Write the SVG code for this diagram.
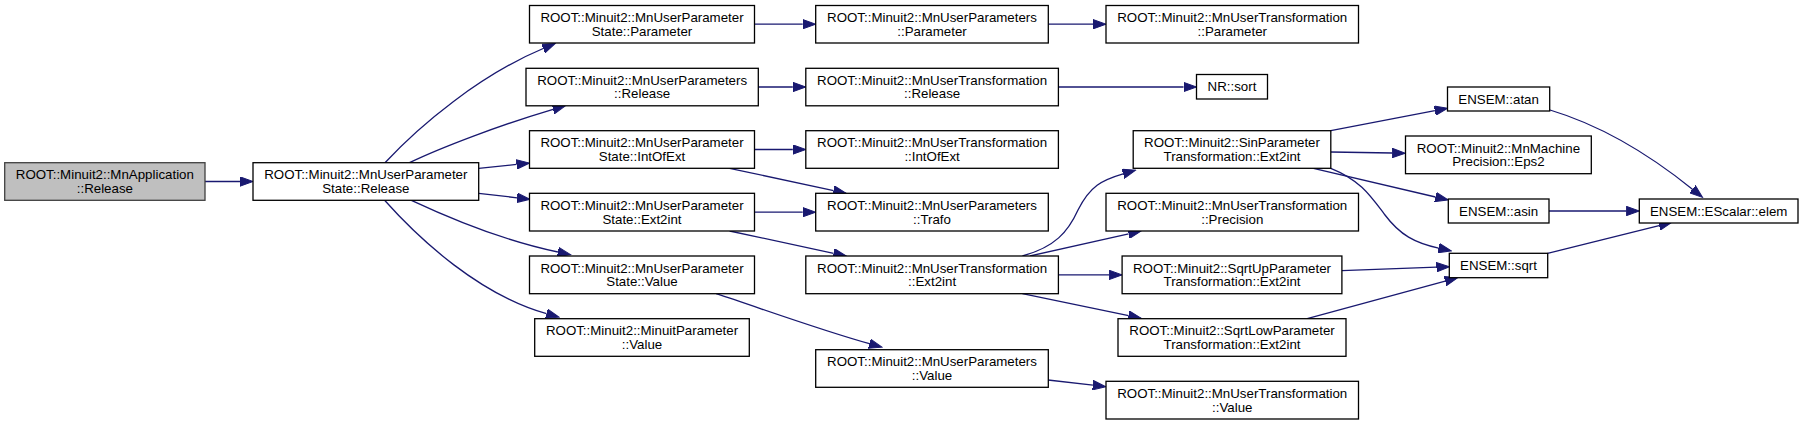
<svg xmlns="http://www.w3.org/2000/svg" width="1804" height="425" viewBox="0 0 1804 425">
<style>
.n rect{fill:#ffffff;stroke:#000000;stroke-width:1.3}
.n.root rect{fill:#bfbfbf;stroke:#404040}
.n text{font-family:"Liberation Sans",Arial,Helvetica,sans-serif;font-size:13.3px;fill:#000000;text-anchor:middle}
.e path{fill:none;stroke:#191970;stroke-width:1.3;marker-end:url(#ah)}
</style>
<defs>
<marker id="ah" markerUnits="userSpaceOnUse" markerWidth="14" markerHeight="10" viewBox="0 0 14 10" refX="0" refY="5" orient="auto">
<path d="M0,0.3 L13,5 L0,9.7 Z" fill="#191970" stroke="#191970" stroke-width="1"/>
</marker>
</defs>
<rect width="1804" height="425" fill="#ffffff"/>
<g id="edges" class="e">
<path d="M205,181.5 L240,181.5"/>
<path d="M385,162.7 C420,125 480,75 543.2,48.5"/>
<path d="M409.5,162.7 C440,148 500,125 553.1,109.3"/>
<path d="M478.7,168.3 L516.6,164.4"/>
<path d="M478.7,193.3 L517.1,197.8"/>
<path d="M411.4,200.3 C445,216 500,240 557.9,252"/>
<path d="M384.6,200.3 C420,240 480,295 546.5,313.7"/>
<path d="M754.5,24.2 L802.7,24.2"/>
<path d="M758.3,87 L792.8,87"/>
<path d="M754.5,149.5 L792.8,149.5"/>
<path d="M729.6,168.3 L833.6,190.6"/>
<path d="M754.5,212.2 L802.7,212.2"/>
<path d="M729.6,231 L833.6,253.3"/>
<path d="M716.2,293.7 C760,308 820,330 869.4,343.7"/>
<path d="M1048.3,24.2 L1093,24.2"/>
<path d="M1058.4,87 L1183.5,87"/>
<path d="M1022.4,256 C1055,247 1068,232 1078,210 C1090,186 1102,180 1123.1,173.8"/>
<path d="M1030,256 L1128.6,233.8"/>
<path d="M1058.4,274.9 L1109.1,274.9"/>
<path d="M1022.4,293.7 L1128.6,315.7"/>
<path d="M1048,380 L1092.9,385.2"/>
<path d="M1330.8,130.7 L1434.9,110.7"/>
<path d="M1330.8,152 L1392.3,153"/>
<path d="M1313.5,168.3 L1435.5,197"/>
<path d="M1330.8,168.3 C1360,180 1370,195 1385,215 C1400,235 1415,243 1438.6,248.1"/>
<path d="M1550,110 C1600,125 1650,155 1692.4,189.2"/>
<path d="M1549,211 L1626.3,211"/>
<path d="M1547.6,253.3 L1659.1,225.6"/>
<path d="M1341.8,270.7 L1436.5,267.2"/>
<path d="M1307.2,318.7 L1445.2,281.1"/>
</g>
<g id="n_app" class="n root"><rect x="4.7" y="162.7" width="200.3" height="37.6"/><text x="104.85" y="179.3">ROOT::Minuit2::MnApplication</text><text x="104.85" y="192.9">::Release</text></g>
<g id="n_stRel" class="n"><rect x="253" y="162.7" width="225.7" height="37.6"/><text x="365.85" y="179.3">ROOT::Minuit2::MnUserParameter</text><text x="365.85" y="192.9">State::Release</text></g>
<g id="n_stPar" class="n"><rect x="529.5" y="5.5" width="225" height="37.5"/><text x="642" y="22.05">ROOT::Minuit2::MnUserParameter</text><text x="642" y="35.65">State::Parameter</text></g>
<g id="n_upRel" class="n"><rect x="526" y="68.3" width="232.3" height="37.5"/><text x="642.15" y="84.85">ROOT::Minuit2::MnUserParameters</text><text x="642.15" y="98.45">::Release</text></g>
<g id="n_stIoe" class="n"><rect x="529.5" y="130.7" width="225" height="37.6"/><text x="642" y="147.3">ROOT::Minuit2::MnUserParameter</text><text x="642" y="160.9">State::IntOfExt</text></g>
<g id="n_stE2i" class="n"><rect x="529.5" y="193.3" width="225" height="37.7"/><text x="642" y="209.95">ROOT::Minuit2::MnUserParameter</text><text x="642" y="223.55">State::Ext2int</text></g>
<g id="n_stVal" class="n"><rect x="529.5" y="256" width="225" height="37.7"/><text x="642" y="272.65">ROOT::Minuit2::MnUserParameter</text><text x="642" y="286.25">State::Value</text></g>
<g id="n_mpVal" class="n"><rect x="534.7" y="318.7" width="214.6" height="37.6"/><text x="642" y="335.3">ROOT::Minuit2::MinuitParameter</text><text x="642" y="348.9">::Value</text></g>
<g id="n_upPar" class="n"><rect x="815.7" y="5.5" width="232.6" height="37.5"/><text x="932" y="22.05">ROOT::Minuit2::MnUserParameters</text><text x="932" y="35.65">::Parameter</text></g>
<g id="n_utRel" class="n"><rect x="805.8" y="68.3" width="252.6" height="37.5"/><text x="932.1" y="84.85">ROOT::Minuit2::MnUserTransformation</text><text x="932.1" y="98.45">::Release</text></g>
<g id="n_utIoe" class="n"><rect x="805.8" y="130.7" width="252.6" height="37.6"/><text x="932.1" y="147.3">ROOT::Minuit2::MnUserTransformation</text><text x="932.1" y="160.9">::IntOfExt</text></g>
<g id="n_upTrafo" class="n"><rect x="815.7" y="193.3" width="232.6" height="37.7"/><text x="932" y="209.95">ROOT::Minuit2::MnUserParameters</text><text x="932" y="223.55">::Trafo</text></g>
<g id="n_utE2i" class="n"><rect x="805.8" y="256" width="252.6" height="37.7"/><text x="932.1" y="272.65">ROOT::Minuit2::MnUserTransformation</text><text x="932.1" y="286.25">::Ext2int</text></g>
<g id="n_upVal" class="n"><rect x="815.7" y="349.7" width="232.6" height="37.6"/><text x="932" y="366.3">ROOT::Minuit2::MnUserParameters</text><text x="932" y="379.9">::Value</text></g>
<g id="n_utPar" class="n"><rect x="1106" y="5.5" width="252.5" height="37.5"/><text x="1232.25" y="22.05">ROOT::Minuit2::MnUserTransformation</text><text x="1232.25" y="35.65">::Parameter</text></g>
<g id="n_sort" class="n"><rect x="1196.5" y="74.5" width="71" height="24.5"/><text x="1232" y="91.25">NR::sort</text></g>
<g id="n_sin" class="n"><rect x="1133.2" y="130.7" width="197.6" height="37.6"/><text x="1232" y="147.3">ROOT::Minuit2::SinParameter</text><text x="1232" y="160.9">Transformation::Ext2int</text></g>
<g id="n_prec" class="n"><rect x="1106" y="193.3" width="252.5" height="37.7"/><text x="1232.25" y="209.95">ROOT::Minuit2::MnUserTransformation</text><text x="1232.25" y="223.55">::Precision</text></g>
<g id="n_sqUp" class="n"><rect x="1122.1" y="256" width="219.8" height="37.7"/><text x="1232" y="272.65">ROOT::Minuit2::SqrtUpParameter</text><text x="1232" y="286.25">Transformation::Ext2int</text></g>
<g id="n_sqLow" class="n"><rect x="1118" y="318.7" width="228" height="37.6"/><text x="1232" y="335.3">ROOT::Minuit2::SqrtLowParameter</text><text x="1232" y="348.9">Transformation::Ext2int</text></g>
<g id="n_utVal" class="n"><rect x="1106" y="381.3" width="252.5" height="37.7"/><text x="1232.25" y="397.95">ROOT::Minuit2::MnUserTransformation</text><text x="1232.25" y="411.55">::Value</text></g>
<g id="n_atan" class="n"><rect x="1447.5" y="87" width="102.2" height="24"/><text x="1498.6" y="103.5">ENSEM::atan</text></g>
<g id="n_eps2" class="n"><rect x="1405.5" y="136" width="185.8" height="37.7"/><text x="1498.4" y="152.65">ROOT::Minuit2::MnMachine</text><text x="1498.4" y="166.25">Precision::Eps2</text></g>
<g id="n_asin" class="n"><rect x="1448.3" y="199" width="100.7" height="24"/><text x="1498.65" y="215.5">ENSEM::asin</text></g>
<g id="n_sqrt" class="n"><rect x="1449.3" y="253.3" width="98.4" height="24.4"/><text x="1498.5" y="270">ENSEM::sqrt</text></g>
<g id="n_elem" class="n"><rect x="1639.3" y="199" width="158.7" height="24"/><text x="1718.65" y="215.5">ENSEM::EScalar::elem</text></g>
</svg>
